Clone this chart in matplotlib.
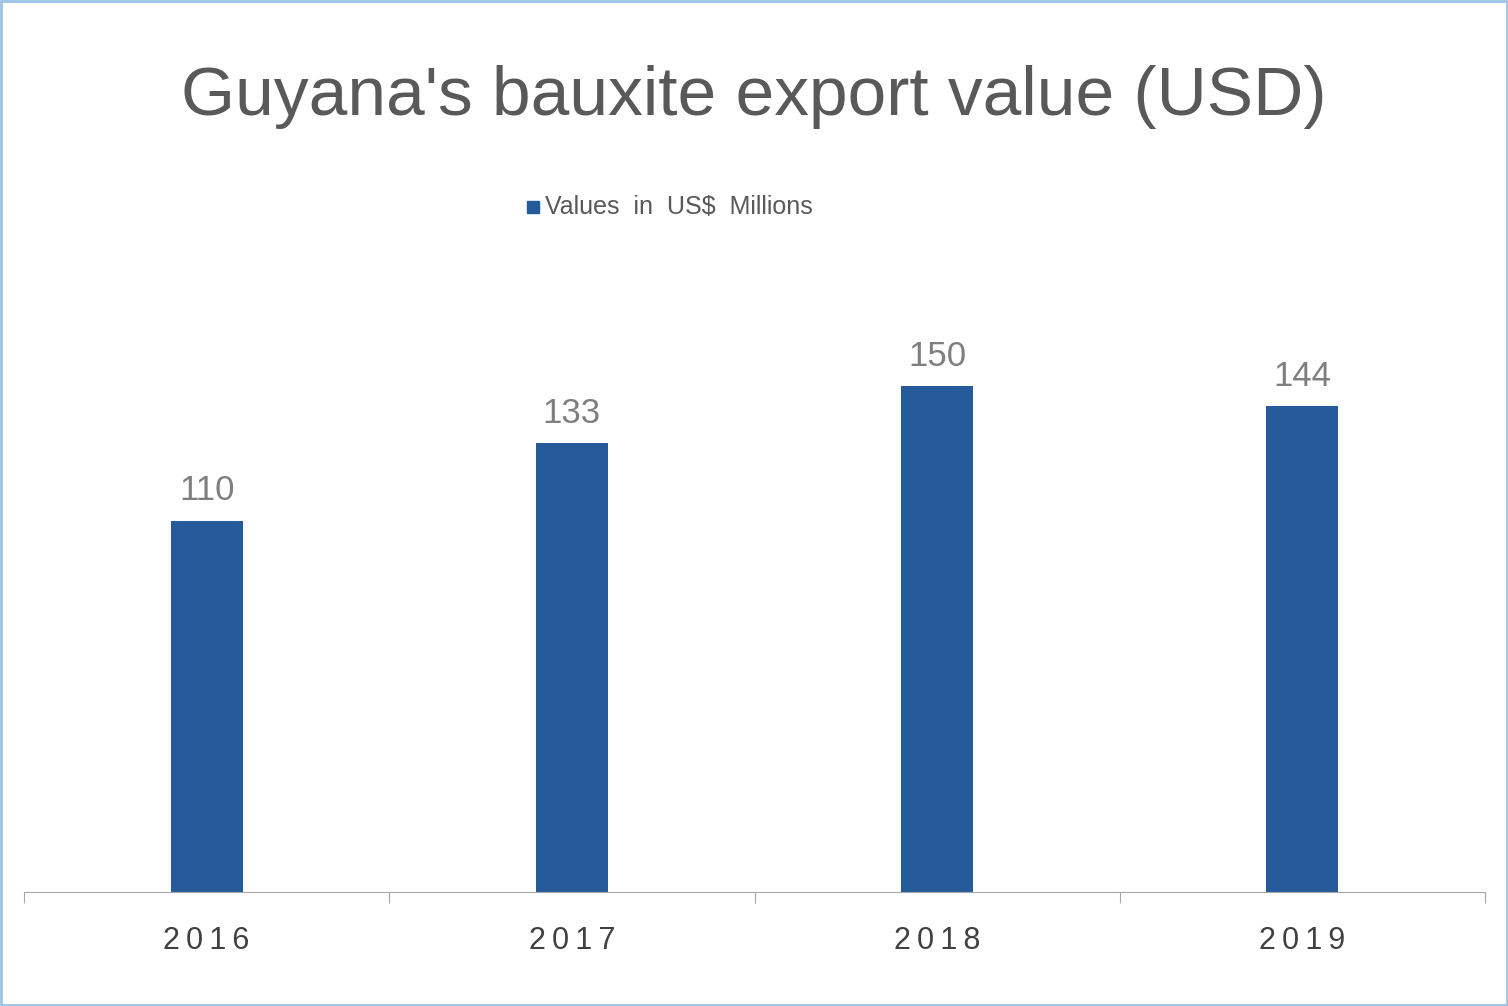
import matplotlib.pyplot as plt
from matplotlib.patches import Rectangle

years = ['2016', '2017', '2018', '2019']
values = [110, 133, 150, 144]

plt.rcParams['font.family'] = ['Liberation Sans', 'DejaVu Sans']

W, H = 1508, 1006
fig = plt.figure(figsize=(W / 100, H / 100), dpi=100)
ax = fig.add_axes([24 / W, 1 - 892 / H, (1485 - 24) / W, (892 - 300) / H])

bar_color = '#255b9a'
x = range(len(years))
bars = ax.bar(x, values, width=0.197, color=bar_color)
for b, v in zip(bars, values):
    ax.text(b.get_x() + b.get_width() / 2, v + 4, str(v), ha='center', va='bottom',
            fontsize=25, color='#7f7f7f')

ax.set_xlim(-0.5, 3.5)
ax.set_ylim(0, 175.5)
ax.set_yticks([])
for s in ['top', 'right', 'left']:
    ax.spines[s].set_visible(False)
ax.spines['bottom'].set_color('#a6a6a6')
ax.set_xticks([-0.5, 0.5, 1.5, 2.5, 3.5], minor=False)
ax.set_xticklabels([])
ax.tick_params(axis='x', length=8, color='#a6a6a6', direction='out')
for i, y in enumerate(years):
    ax.text(i, -10, '\u2009'.join(y), ha='center', va='top', fontsize=22, color='#404040')

fig.text(0.5, 1 - 97 / H, "Guyana's bauxite export value (USD)", ha='center', va='center',
         fontsize=50, color='#595959')
fig.patches.append(Rectangle((527 / W, 1 - 213 / H), 12 / W, 12 / H,
                             transform=fig.transFigure, color=bar_color))
fig.text(545 / W, 1 - 207 / H, 'Values  in  US$  Millions', ha='left', va='center',
         fontsize=18, color='#595959')
fig.patches.append(Rectangle((1 / W, 1 / H), 1 - 2 / W, 1 - 2 / H, transform=fig.transFigure,
                             fill=False, edgecolor='#9dc3e6', linewidth=2))

fig.savefig('out.png', dpi=100)
